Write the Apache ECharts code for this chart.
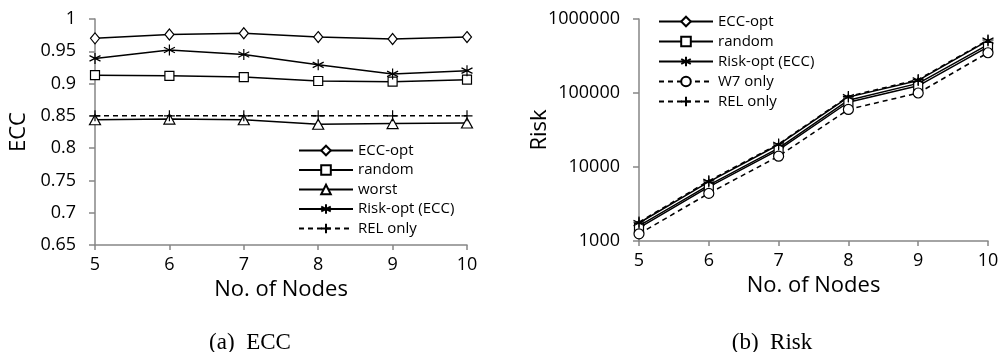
<!DOCTYPE html>
<html>
<head>
<meta charset="utf-8">
<script src="https://cdn.jsdelivr.net/npm/echarts@6/dist/echarts.min.js"></script>
<style>
  html, body { margin: 0; padding: 0; background: #fff; }
  #wrap { position: relative; width: 1004px; height: 352px; }
  #ecc { position: absolute; left: 0; top: 0; width: 502px; height: 352px; }
  #risk { position: absolute; left: 502px; top: 0; width: 502px; height: 352px; }
</style>
</head>
<body>
<div id="wrap"><div id="ecc"></div><div id="risk"></div></div>
<script>
// Number of nodes on the x axis
const nodes = ['5', '6', '7', '8', '9', '10'];

// (a) ECC per scheme
const eccOpt      = [0.970, 0.976, 0.978, 0.972, 0.969, 0.972];
const eccRandom   = [0.913, 0.912, 0.910, 0.904, 0.903, 0.906];
const eccWorst    = [0.844, 0.845, 0.844, 0.837, 0.838, 0.839];
const eccRiskOpt  = [0.939, 0.952, 0.945, 0.929, 0.915, 0.920];
const eccRelOnly  = [0.850, 0.850, 0.850, 0.850, 0.850, 0.850];

// (b) Risk per scheme
const riskEccOpt  = [1600, 5700, 18000, 80000, 135000, 450000];
const riskRandom  = [1500, 5400, 17000, 75000, 125000, 420000];
const riskRiskOpt = [1750, 6300, 20000, 88000, 148000, 510000];
const riskW7Only  = [1250, 4400, 14000, 60000, 100000, 350000];
const riskRelOnly = [1800, 6500, 20500, 90000, 152000, 520000];

// Axis ranges
const eccMin = 0.65, eccMax = 1, eccStep = 0.05;
const riskMin = 1000, riskMax = 1000000;

const FONT = 'Open Sans';
const AXIS_GRAY = '#868686';
const ASTERISK = 'path://M0,-5L0,5M-4.33,-2.5L4.33,2.5M-4.33,2.5L4.33,-2.5';
const PLUS = 'path://M-5,0L5,0M0,-5L0,5';

function mkSeries(name, data, symbol, size, dashed) {
  return {
    name: name,
    type: 'line',
    data: data,
    symbol: symbol,
    symbolSize: size,
    showAllSymbol: true,
    lineStyle: { color: '#000', width: 1.5, type: dashed ? [5, 4] : 'solid' },
    itemStyle: { color: '#fff', borderColor: '#000', borderWidth: 1.2 },
    emphasis: { disabled: true },
    animation: false,
    z: 3
  };
}

function xAxisCfg() {
  return {
    type: 'category',
    data: nodes,
    boundaryGap: false,
    name: 'No. of Nodes',
    nameLocation: 'middle',
    nameGap: 33,
    nameTextStyle: { fontFamily: FONT, fontSize: 22, color: '#000' },
    axisLine: { lineStyle: { color: AXIS_GRAY, width: 1.5 } },
    axisTick: { show: true, length: 5, alignWithLabel: true, lineStyle: { color: AXIS_GRAY, width: 1.5 } },
    axisLabel: { fontFamily: FONT, fontSize: 18, color: '#000', margin: 11 },
    splitLine: { show: false }
  };
}

function yAxisLook(name, gap) {
  return {
    name: name, nameLocation: 'middle', nameRotate: 90, nameGap: gap,
    nameMoveOverlap: false,
    nameTextStyle: { fontFamily: FONT, fontSize: 22, color: '#000' },
    axisLine: { show: true, lineStyle: { color: AXIS_GRAY, width: 1.5 } },
    axisTick: { show: true, length: 6, lineStyle: { color: AXIS_GRAY, width: 1.5 } },
    splitLine: { show: false }
  };
}

const captionStyle = { fontFamily: 'Liberation Serif', fontSize: 23, fontWeight: 'normal', color: '#000' };
const legendText = { fontFamily: FONT, fontSize: 15, color: '#000' };

// (a) ECC chart
const eccChart = echarts.init(document.getElementById('ecc'), null, { renderer: 'canvas' });
eccChart.setOption({
  animation: false,
  title: { text: '(a)  ECC', left: 245, top: 326, textAlign: 'center', textStyle: captionStyle },
  grid: { left: 93, top: 19, width: 374, height: 226 },
  legend: {
    left: 293, top: 138, orient: 'vertical',
    itemWidth: 54, itemHeight: 12, itemGap: 4.5,
    textStyle: legendText,
    data: ['ECC-opt', 'random', 'worst', 'Risk-opt (ECC)', 'REL only'],
    selectedMode: false
  },
  xAxis: xAxisCfg(),
  yAxis: Object.assign(yAxisLook('ECC', 65), {
    type: 'value', min: eccMin, max: eccMax, interval: eccStep,
    axisLabel: { fontFamily: FONT, fontSize: 18, color: '#000', margin: 19,
      formatter: v => String(parseFloat(v.toFixed(2))) }
  }),
  series: [
    mkSeries('ECC-opt', eccOpt, 'diamond', [9, 11], false),
    mkSeries('random', eccRandom, 'rect', 9, false),
    mkSeries('worst', eccWorst, 'triangle', [11, 10], false),
    mkSeries('Risk-opt (ECC)', eccRiskOpt, ASTERISK, 11, false),
    mkSeries('REL only', eccRelOnly, PLUS, 11, true)
  ]
});

// (b) Risk chart
const riskChart = echarts.init(document.getElementById('risk'), null, { renderer: 'canvas' });
riskChart.setOption({
  animation: false,
  title: { text: '(b)  Risk', left: 265, top: 326, textAlign: 'center', textStyle: captionStyle },
  grid: { left: 137, top: 19, width: 349, height: 222 },
  legend: {
    left: 151, top: 9, orient: 'vertical',
    itemWidth: 54, itemHeight: 12, itemGap: 5,
    textStyle: legendText,
    data: ['ECC-opt', 'random', 'Risk-opt (ECC)', 'W7 only', 'REL only'],
    selectedMode: false
  },
  xAxis: xAxisCfg(),
  yAxis: Object.assign(yAxisLook('Risk', 88), {
    type: 'log', logBase: 10, min: riskMin, max: riskMax,
    axisLabel: { fontFamily: FONT, fontSize: 18, color: '#000', margin: 19,
      formatter: v => String(Math.round(v)) }
  }),
  series: [
    mkSeries('ECC-opt', riskEccOpt, 'diamond', [9, 11], false),
    mkSeries('random', riskRandom, 'rect', 9, false),
    mkSeries('Risk-opt (ECC)', riskRiskOpt, ASTERISK, 11, false),
    mkSeries('W7 only', riskW7Only, 'circle', 10, true),
    mkSeries('REL only', riskRelOnly, PLUS, 11, true)
  ]
});
</script>
</body>
</html>
